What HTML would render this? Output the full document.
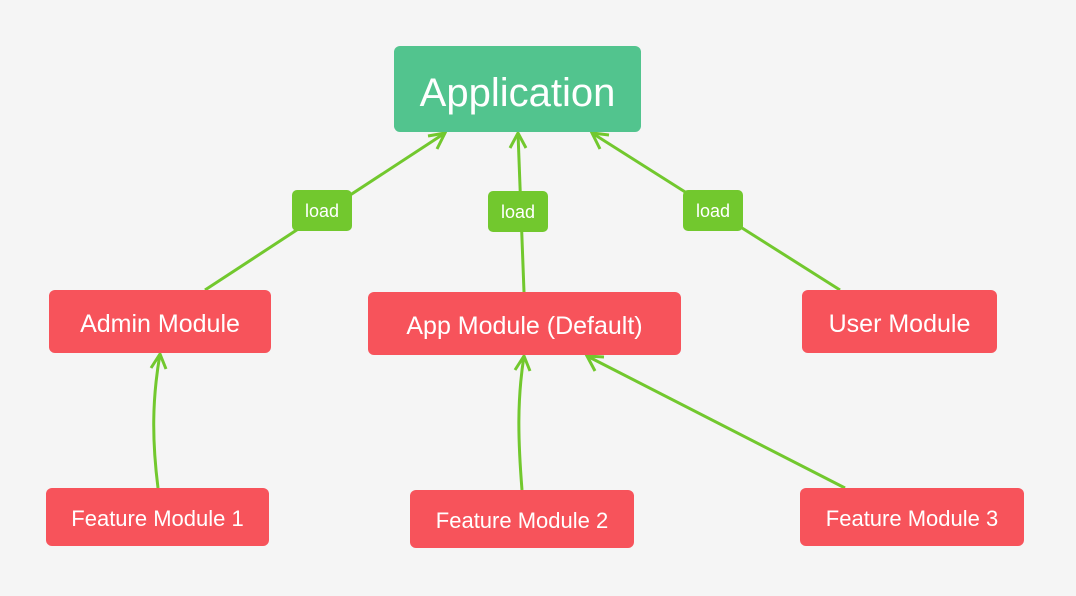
<!DOCTYPE html>
<html><head><style>
body{margin:0;width:1076px;height:596px;background:#f5f5f5;position:relative;overflow:hidden;font-family:"Liberation Sans",sans-serif}
.b{position:absolute;color:#fff;border-radius:6px;display:flex;align-items:center;justify-content:center;white-space:nowrap;box-sizing:border-box}
.r{background:#f7535b;font-size:25px;padding-top:5px}
.f{background:#f7535b;font-size:22px;padding-top:4px}
.l{background:#72c82e;font-size:18px;border-radius:5px;padding-top:2px}
svg{position:absolute;left:0;top:0}
</style></head><body>
<svg width="1076" height="596" fill="none" stroke="#72c82e" stroke-width="3">
<path d="M205 290 L445 133"/><path d="M428 136 L445 133 L437 149"/>
<path d="M524 292 L518 133"/><path d="M510 148 L518 133 L526 148"/>
<path d="M840 290 L592 133"/><path d="M600 149 L592 133 L609 135"/>
<path d="M158 488 C152 440 152 400 160 354"/><path d="M151 368 L160 354 L166 369"/>
<path d="M522 490 C518 440 517 400 524 356"/><path d="M515 370 L524 356 L530 371"/>
<path d="M845 488 L587 356"/><path d="M595 371 L587 356 L604 357"/>
</svg>
<div class="b" style="left:394px;top:46px;width:247px;height:86px;background:#52c48e;font-size:40px;padding-top:8px">Application</div>
<div class="b l" style="left:292px;top:190px;width:60px;height:41px">load</div>
<div class="b l" style="left:488px;top:191px;width:60px;height:41px">load</div>
<div class="b l" style="left:683px;top:190px;width:60px;height:41px">load</div>
<div class="b r" style="left:49px;top:290px;width:222px;height:63px">Admin Module</div>
<div class="b r" style="left:368px;top:292px;width:313px;height:63px">App Module (Default)</div>
<div class="b r" style="left:802px;top:290px;width:195px;height:63px">User Module</div>
<div class="b f" style="left:46px;top:488px;width:223px;height:58px">Feature Module 1</div>
<div class="b f" style="left:410px;top:490px;width:224px;height:58px">Feature Module 2</div>
<div class="b f" style="left:800px;top:488px;width:224px;height:58px">Feature Module 3</div>
</body></html>
